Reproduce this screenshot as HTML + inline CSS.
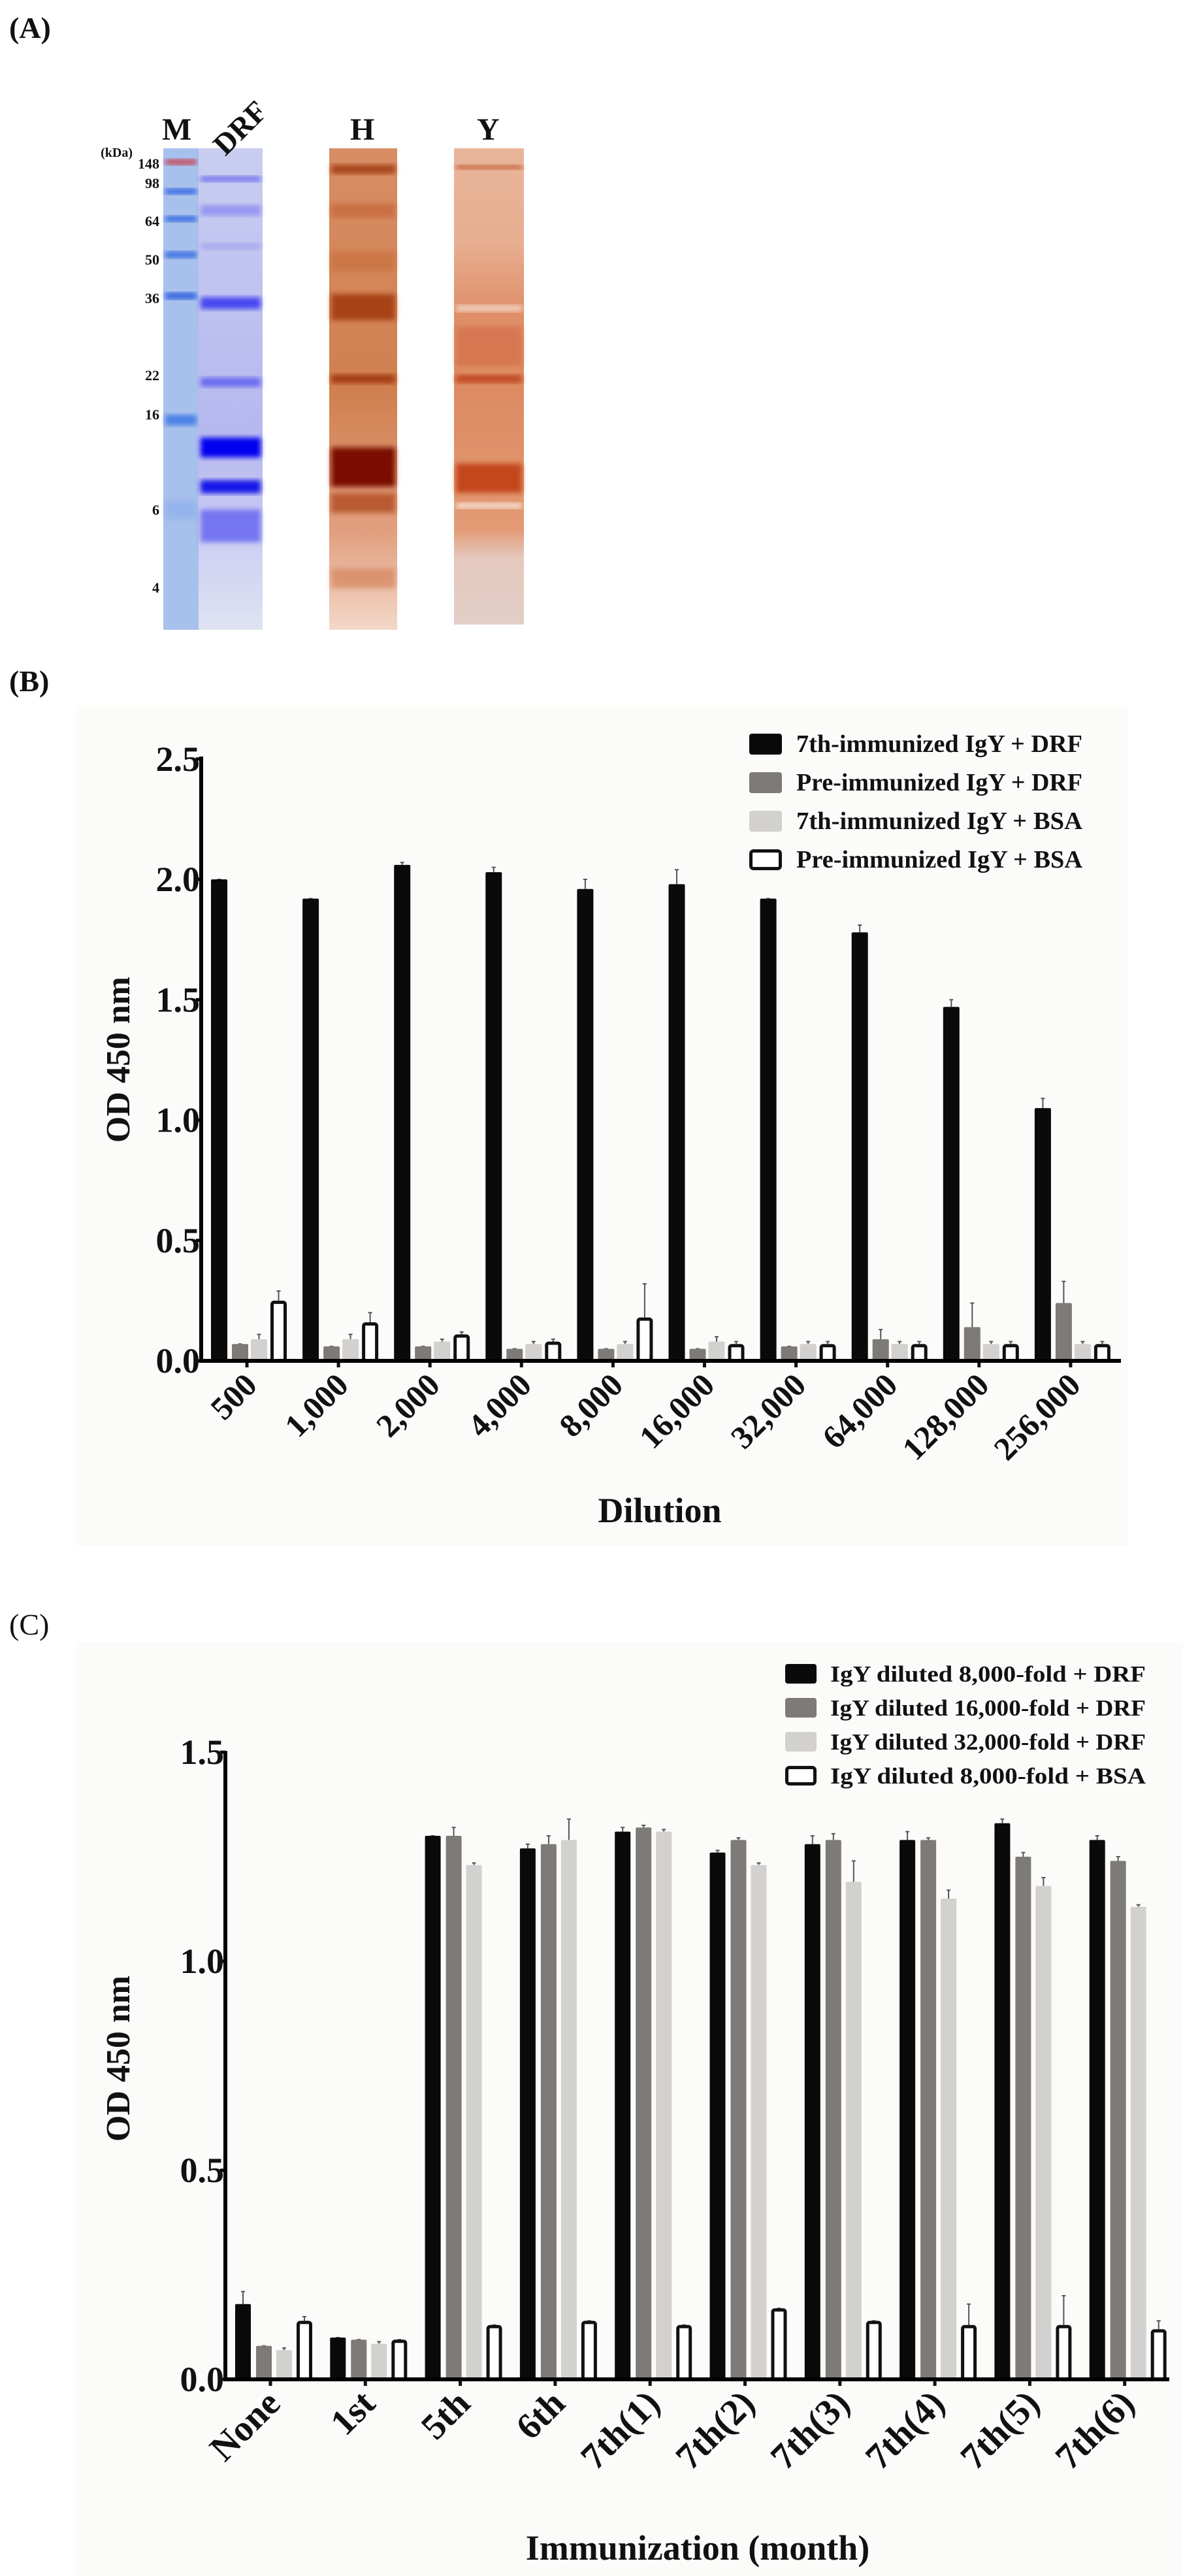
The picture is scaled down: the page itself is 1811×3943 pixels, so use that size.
<!DOCTYPE html>
<html><head><meta charset="utf-8"><style>
html,body{margin:0;padding:0;background:#fff}
svg{display:block}
text{font-family:"Liberation Serif",serif;font-weight:bold;fill:#111}
</style></head><body>
<svg id="s" width="1811" height="3943" viewBox="0 0 1811 3943" xmlns="http://www.w3.org/2000/svg">
<defs>
<filter id="bl" x="-20%" y="-20%" width="140%" height="140%"><feGaussianBlur stdDeviation="4"/></filter>
<linearGradient id="yb" x1="0" y1="0" x2="0" y2="1">
<stop offset="0" stop-color="#e8b59a"/><stop offset="0.2" stop-color="#e7ae90"/><stop offset="0.35" stop-color="#df8e68"/><stop offset="0.5" stop-color="#dd8a62"/><stop offset="0.8" stop-color="#e39a75"/><stop offset="0.86" stop-color="#e4c8bd"/><stop offset="1" stop-color="#e3cfc8"/></linearGradient>
<linearGradient id="hb" x1="0" y1="0" x2="0" y2="1">
<stop offset="0" stop-color="#d88d65"/><stop offset="0.5" stop-color="#d0804f"/><stop offset="0.8" stop-color="#e2a080"/><stop offset="1" stop-color="#f3d8c8"/></linearGradient>
<linearGradient id="db" x1="0" y1="0" x2="0" y2="1">
<stop offset="0" stop-color="#c9cdf0"/><stop offset="0.6" stop-color="#b6b7f0"/><stop offset="1" stop-color="#dfe3f3"/></linearGradient>
</defs>
<text x="14" y="58" font-size="46">(A)</text>
<g id="gel"></g>
<text x="248" y="214" font-size="48">M</text>
<text x="0" y="0" font-size="46" transform="translate(345,240) rotate(-45)">DRF</text>
<text x="536" y="214" font-size="48">H</text>
<text x="730" y="214" font-size="48">Y</text>
<text x="203" y="240" text-anchor="end" style="font-size:20px">(kDa)</text>
<g font-size="22" text-anchor="end" id="kda"></g>
<text x="14" y="1058" font-size="46">(B)</text>
<rect x="116" y="1079" width="1611" height="1287" fill="#fbfbfa"/>
<text x="14" y="2502" font-size="46" style="font-weight:normal">(C)</text>
<rect x="116" y="2513" width="1695" height="1430" fill="#fbfbfa"/>
<g id="B"></g><g id="C"></g>
</svg>
<script>
function lane(x,w,y0,y1,fill,bands){var o='<rect x="'+x+'" y="'+y0+'" width="'+w+'" height="'+(y1-y0)+'" fill="'+fill+'"/>';
bands.forEach(function(b){o+='<rect x="'+(x+3)+'" y="'+(b[0]-b[1]/2)+'" width="'+(w-6)+'" height="'+b[1]+'" fill="'+b[2]+'" opacity="'+(b[3]||1)+'" filter="url(#bl)"/>';});return o;}
var g="";
g+=lane(250,54,227,964,"#a8c0ec",[[248,8,"#c84050"],[293,8,"#2a62e0"],[335,8,"#2a62e0"],[390,10,"#3a70e0"],[453,10,"#2a62e0"],[643,16,"#4a80e6"],[780,30,"#8fb0ec",.7]]);
g+=lane(304,98,227,964,"url(#db)",[[274,8,"#6e6ef0"],[322,16,"#8a8af0",.8],[377,10,"#9a9af0",.6],[464,18,"#4646f0"],[585,14,"#6a6af0"],[685,30,"#0000f0"],[745,20,"#1818e8"],[805,50,"#6060f0",.8]]);
g+=lane(504,104,227,964,"url(#hb)",[[259,14,"#a8441c"],[322,22,"#c66a3e",.8],[400,30,"#c8703e",.7],[470,40,"#a84216"],[580,14,"#a43c12"],[715,60,"#7a0e00"],[770,30,"#b04c20",.8],[885,30,"#d4845c",.7]]);
g+=lane(695,107,227,956,"url(#yb)",[[256,6,"#c45a34"],[472,10,"#f0d0c0"],[530,60,"#d06a44",.6],[580,12,"#c04a20"],[732,45,"#c4461c"],[774,8,"#f6e4d8"]]);
document.getElementById("gel").innerHTML=g;
var k="";[["148",258],["98",288],["64",346],["50",405],["36",464],["22",582],["16",642],["6",788],["4",907]].forEach(function(a){k+='<text x="244" y="'+a[1]+'">'+a[0]+'</text>';});
document.getElementById("kda").innerHTML=k;

function chart(o){
 var h="",ax=o.ax,y0=o.y0,sc=o.sc;
 var cols=["#0a0a0a","#7d7a77","#d3d1cf","#ffffff"];
 o.data.forEach(function(grp,i){var t=o.t0+o.dt*i;
  grp.forEach(function(v,j){var x=t+o.off[j],w=o.bw,y=y0-v*sc;
   var e=o.err[i][j]*sc;
   h+='<line x1="'+(x+w/2)+'" y1="'+y+'" x2="'+(x+w/2)+'" y2="'+(y-e)+'" stroke="#555" stroke-width="2"/><line x1="'+(x+w/2-3)+'" y1="'+(y-e)+'" x2="'+(x+w/2+3)+'" y2="'+(y-e)+'" stroke="#555" stroke-width="2"/>';
   if(j==3)h+='<rect x="'+(x+2.5)+'" y="'+(y+2.5)+'" width="'+(w-5)+'" height="'+(v*sc-2.5)+'" fill="#fff" stroke="#111" stroke-width="5" rx="3"/>';
   else h+='<rect x="'+x+'" y="'+y+'" width="'+w+'" height="'+(v*sc)+'" fill="'+cols[j]+'" rx="2"/>';
  });
  h+='<line x1="'+t+'" y1="'+y0+'" x2="'+t+'" y2="'+(y0+10)+'" stroke="#111" stroke-width="5"/>';
  h+='<text font-size="'+o.fs+'" text-anchor="end" transform="translate('+(t+18)+','+(y0+40)+') rotate(-45)">'+o.labels[i]+'</text>';
 });
 h+='<line x1="'+ax+'" y1="'+o.ytop+'" x2="'+ax+'" y2="'+(y0+3)+'" stroke="#000" stroke-width="6"/>';
 h+='<line x1="'+(ax-3)+'" y1="'+y0+'" x2="'+o.xend+'" y2="'+y0+'" stroke="#000" stroke-width="6"/>';
 o.ticks.forEach(function(v){var y=y0-v*sc;h+='<line x1="'+(ax-8)+'" y1="'+y+'" x2="'+ax+'" y2="'+y+'" stroke="#000" stroke-width="5"/><text x="'+(ax-2)+'" y="'+(y+18)+'" font-size="54" text-anchor="end">'+v.toFixed(1)+'</text>';});
 h+='<text font-size="52" text-anchor="middle" transform="translate(198,'+o.ylc+') rotate(-90)">OD 450 nm</text>';
 h+='<text x="'+o.xlx+'" y="'+o.xly+'" font-size="54" text-anchor="middle">'+o.xl+'</text>';
 o.leg.forEach(function(L,j){var y=o.ly0+o.ldy*j;
  if(j==3)h+='<rect x="'+(o.lx+2.5)+'" y="'+(y-o.lh/2+2.5)+'" width="'+(o.lw-5)+'" height="'+(o.lh-5)+'" fill="#fff" stroke="#111" stroke-width="5" rx="4"/>';
  else h+='<rect x="'+o.lx+'" y="'+(y-o.lh/2)+'" width="'+o.lw+'" height="'+o.lh+'" fill="'+cols[j]+'" rx="4"/>';
  h+='<text x="'+o.tx+'" y="'+(y+12)+'" font-size="'+o.lfs+'" textLength="'+o.tl+'" lengthAdjust="spacingAndGlyphs">'+L+'</text>';});
 return h;}

document.getElementById("B").innerHTML=chart({ax:308,y0:2083,sc:368.5,ytop:1158,xend:1716,t0:378,dt:140.1,off:[-55,-23,6,36],bw:25,fs:50,
 data:[[2.0,.07,.09,.25],[1.92,.06,.09,.16],[2.06,.06,.08,.11],[2.03,.05,.07,.08],[1.96,.05,.07,.18],[1.98,.05,.08,.07],[1.92,.06,.07,.07],[1.78,.09,.07,.07],[1.47,.14,.07,.07],[1.05,.24,.07,.07]],
 err:[[0,0,.02,.04],[0,0,.02,.04],[.01,0,.01,.01],[.02,0,.01,.01],[.04,0,.01,.14],[.06,0,.02,.01],[0,0,.01,.01],[.03,.04,.01,.01],[.03,.1,.01,.01],[.04,.09,.01,.01]],
 labels:["500","1,000","2,000","4,000","8,000","16,000","32,000","64,000","128,000","256,000"],
 ticks:[0,.5,1,1.5,2,2.5],ylc:1622,xl:"Dilution",xlx:1010,xly:2330,
 leg:["7th-immunized IgY + DRF","Pre-immunized IgY + DRF","7th-immunized IgY + BSA","Pre-immunized IgY + BSA"],
 lx:1147,lw:50,lh:32,ly0:1139,ldy:59,tx:1219,tl:438,lfs:38});

document.getElementById("C").innerHTML=chart({ax:345,y0:3642,sc:640,ytop:2680,xend:1790,t0:414,dt:145.3,off:[-54,-22,9,40],bw:24,fs:56,
 data:[[.18,.08,.07,.14],[.10,.095,.085,.095],[1.30,1.30,1.23,.13],[1.27,1.28,1.29,.14],[1.31,1.32,1.31,.13],[1.26,1.29,1.23,.17],[1.28,1.29,1.19,.14],[1.29,1.29,1.15,.13],[1.33,1.25,1.18,.13],[1.29,1.24,1.13,.12]],
 err:[[.03,0,.005,.01],[0,0,.005,0],[0,.02,.005,0],[.01,.02,.05,0],[.01,.005,.005,0],[.005,.005,.005,0],[.02,.015,.05,0],[.02,.005,.02,.05],[.01,.01,.02,.07],[.01,.01,.005,.02]],
 labels:["None","1st","5th","6th","7th(1)","7th(2)","7th(3)","7th(4)","7th(5)","7th(6)"],
 ticks:[0,.5,1,1.5],ylc:3151,xl:"Immunization (month)",xlx:1068,xly:3918,
 leg:["IgY diluted 8,000-fold + DRF","IgY diluted 16,000-fold + DRF","IgY diluted 32,000-fold + DRF","IgY diluted 8,000-fold + BSA"],
 lx:1202,lw:48,lh:30,ly0:2562,ldy:52,tx:1271,tl:483,lfs:35});
</script>
</body></html>
